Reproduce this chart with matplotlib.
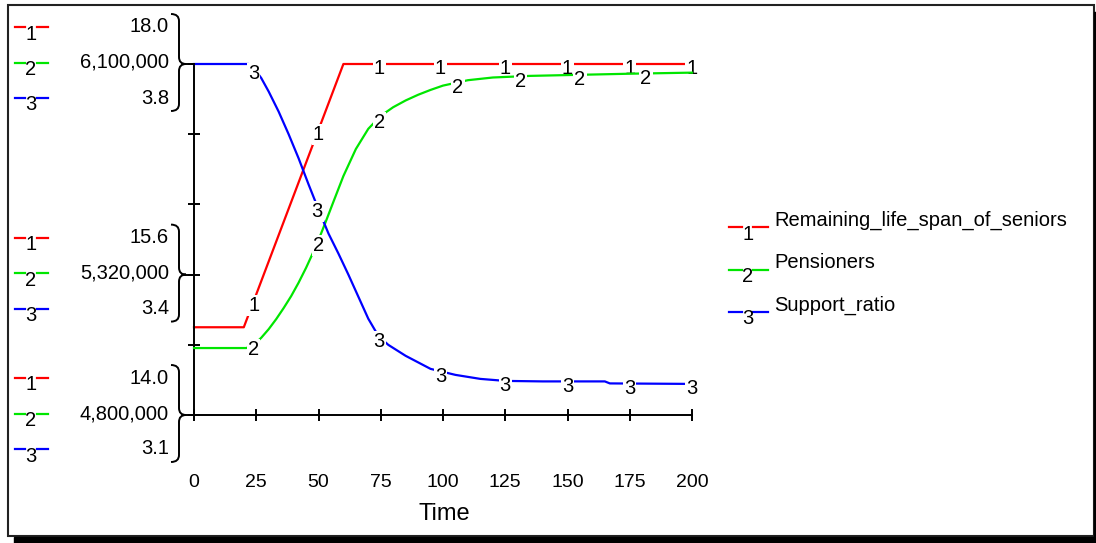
import numpy as np
import matplotlib
matplotlib.use('Agg')
import matplotlib.pyplot as plt
from matplotlib.path import Path
from matplotlib.patches import PathPatch, Rectangle
from matplotlib.lines import Line2D
from matplotlib.transforms import IdentityTransform

plt.rcParams['font.family'] = ['Liberation Sans', 'DejaVu Sans']

# --- datos de la simulacion ---
time_life = [0, 20, 60, 200]
life_span = [15.0, 15.0, 18.0, 18.0]

time_pens = [0, 21, 24, 27, 30, 33, 36, 39, 42, 45, 48, 50, 53, 56, 60, 65,
             70, 75, 80, 85, 90, 95, 100, 110, 120, 135, 150, 175, 200]
pensioners = [5048000, 5048000, 5060000, 5086000, 5118000, 5155000, 5196000,
              5240000, 5290000, 5345000, 5405000, 5448000, 5518000, 5590000,
              5685000, 5785000, 5860000, 5908000, 5940000, 5965000, 5986000,
              6004000, 6020000, 6040000, 6050000, 6056000, 6059000, 6064000,
              6068000]

time_supp = [0, 22, 24, 27, 30, 34, 38, 42, 46, 50, 54, 58, 62, 66, 70, 74,
             78, 85, 95, 105, 115, 125, 140, 165, 167, 200]
support = [3.800, 3.800, 3.792, 3.772, 3.745, 3.705, 3.660, 3.612, 3.560,
           3.510, 3.462, 3.422, 3.380, 3.336, 3.292, 3.258, 3.240, 3.218,
           3.192, 3.180, 3.172, 3.168, 3.167, 3.167, 3.163, 3.162]

# posiciones de los numeros sobre cada curva
marks_life = [24, 50, 74.5, 99, 125, 150, 175, 200]
marks_pens = [24, 50, 74.5, 106, 131, 155, 181.5]
marks_supp = [24, 49.5, 74.3, 99, 125, 150, 175, 200]

names = ['Remaining_life_span_of_seniors', 'Pensioners', 'Support_ratio']
colors = ['#ff0000', '#00e600', '#0000ff']
scales = [(14.0, 18.0), (4800000, 6100000), (3.1, 3.8)]
formats = ['{:.1f}', '{:,.0f}', '{:.1f}']
x_ticks = [0, 25, 50, 75, 100, 125, 150, 175, 200]

W, H = 1096, 543
FS = 14.5
fig = plt.figure(figsize=(W / 100, H / 100), dpi=100)
fig.patch.set_facecolor('white')
rect = [194 / W, 1 - 415 / H, (692 - 194) / W, (415 - 64) / H]

ax1 = fig.add_axes(rect)
ax2 = fig.add_axes(rect)
ax3 = fig.add_axes(rect)
axes = [ax1, ax2, ax3]
series = [(time_life, life_span, marks_life),
          (time_pens, pensioners, marks_pens),
          (time_supp, support, marks_supp)]

for num, (ax, (t, v, marks), col, lim) in enumerate(zip(axes, series, colors, scales), 1):
    ax.set_xlim(0, 200)
    ax.set_ylim(*lim)
    ax.patch.set_alpha(0)
    ax.plot(t, v, color=col, lw=1.6, clip_on=False, zorder=2)
    for m in marks:
        ax.annotate(str(num), (m, np.interp(m, t, v)),
                    xytext=(0, -5), textcoords='offset pixels',
                    ha='center', va='center', fontsize=FS, zorder=3,
                    annotation_clip=False,
                    bbox=dict(boxstyle='square,pad=0.05', fc='white', ec='none'))

for ax in (ax2, ax3):
    ax.axis('off')

for s in ['top', 'right']:
    ax1.spines[s].set_visible(False)
for s in ['left', 'bottom']:
    ax1.spines[s].set_linewidth(1.4)
ax1.set_xticks(x_ticks)
ax1.set_xticklabels([str(x) for x in x_ticks])
ax1.set_yticks(np.linspace(14, 18, 6))
ax1.set_yticklabels([])
ax1.tick_params(direction='inout', length=8.5, width=1.4, labelsize=14)
ax1.tick_params(axis='x', pad=38)

fig.text(444 / W, 1 - 514 / H, 'Time', fontsize=17, ha='center', va='center')

ident = IdentityTransform()
x_axis = ax1.transAxes.transform((0, 0))[0]


def dash_key(x0, y, col, num):
    # marca de leyenda: guion - numero - guion
    fig.add_artist(Line2D([x0, x0 + 10], [y, y], color=col, lw=1.6, transform=ident))
    fig.add_artist(Line2D([x0 + 22, x0 + 33], [y, y], color=col, lw=1.6, transform=ident))
    fig.text(x0 + 16, y - 7, num, transform=ident, fontsize=FS, ha='center', va='center')


def brace(yt):
    verts = [(171, yt + 50), (179, yt + 50), (179, yt + 43),
             (179, yt + 7), (179, yt), (186, yt),
             (179, yt), (179, yt - 7),
             (179, yt - 40), (179, yt - 47), (171, yt - 47)]
    codes = [Path.MOVETO, Path.CURVE3, Path.CURVE3,
             Path.LINETO, Path.CURVE3, Path.CURVE3,
             Path.CURVE3, Path.CURVE3,
             Path.LINETO, Path.CURVE3, Path.CURVE3]
    fig.add_artist(PathPatch(Path(verts, codes), fill=False, lw=1.4,
                             ec='black', transform=ident))
    fig.add_artist(Line2D([185, x_axis], [yt, yt], color='black', lw=1.4,
                          transform=ident))


# escalas a la izquierda (abajo, medio, arriba)
for idx in [0, 2, 5]:
    frac = idx / 5
    yt = ax1.transAxes.transform((0, frac))[1]
    brace(yt)
    for k, (lim, fmt, col) in enumerate(zip(scales, formats, colors)):
        val = lim[0] + frac * (lim[1] - lim[0])
        yy = yt + 37 - k * 35.5
        fig.text(169, yy, fmt.format(val), transform=ident, fontsize=FS,
                 ha='right', va='center')
        dash_key(15, yy, col, str(k + 1))

# leyenda de la derecha
for k, (name, col) in enumerate(zip(names, colors)):
    y = H - 227 - k * 42.5
    fig.add_artist(Line2D([729, 742], [y, y], color=col, lw=1.6, transform=ident))
    fig.add_artist(Line2D([753, 768], [y, y], color=col, lw=1.6, transform=ident))
    fig.text(748, y - 7, str(k + 1), transform=ident, fontsize=FS, ha='center', va='center')
    fig.text(774, y + 7, name, transform=ident, fontsize=FS, ha='left', va='center')

# marco con sombra
fig.add_artist(Rectangle((8, H - 536), 1094 - 8, 536 - 5, fill=False, lw=1.5,
                         ec='#222222', transform=ident))
fig.add_artist(Rectangle((14, 0), W - 14, 6, color='black', transform=ident))
fig.add_artist(Rectangle((1094, 0), 2, H - 12, color='black', transform=ident))

fig.savefig('out.png', dpi=100)
